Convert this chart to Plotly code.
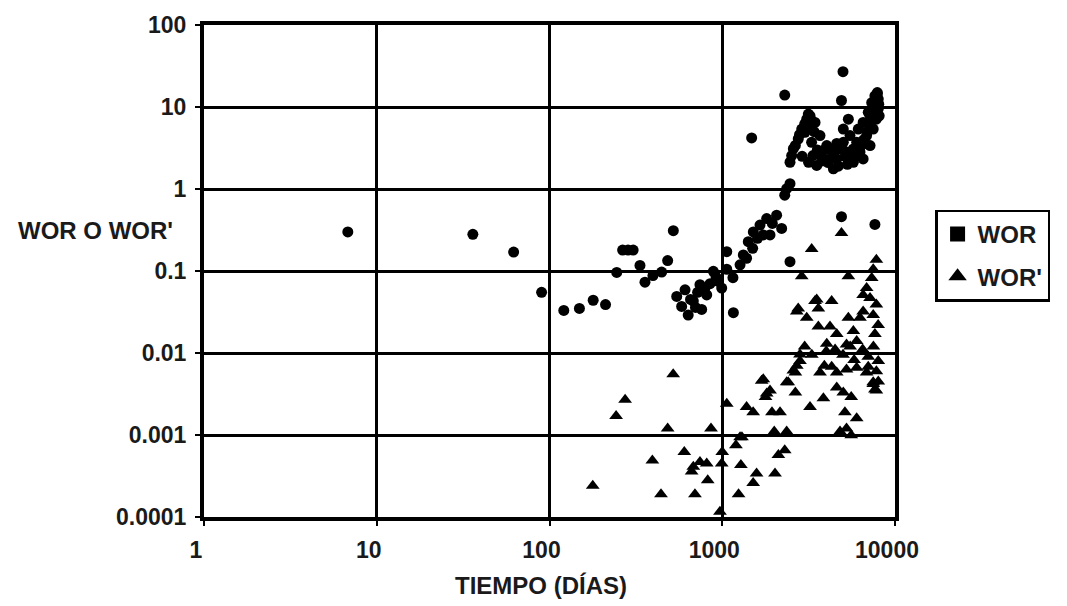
import plotly.graph_objects as go

# ---- data (time in days, ratio) ----
wor_t = [6.8, 36, 62, 90,
         121, 149, 179, 211,
         265, 285, 305, 245, 334, 357, 397, 446, 483, 521,
         545, 582, 609, 635, 680, 743, 760, 813, 888, 949, 993,
         700, 655, 720, 790, 850, 920,
         1062, 1062, 1153, 1160, 1268, 1324, 1383, 1415, 1500, 1513, 1654, 1728, 1808, 1890,
         2064, 2207, 1600, 1950,
         1480, 2300, 5000, 4900, 5370,
         2300, 2360, 2467,
         2523, 2467, 2580, 2753, 2884, 3083, 3222, 3444, 3680, 3290, 3350, 3522, 3160, 3010,
         3680, 4027, 4204, 4398, 4600, 4806, 5020, 5240, 5490, 5740, 6000, 6130, 6270, 6540,
         6850, 7000, 7330, 7650, 7800, 7480, 7990, 7170, 6540, 5740, 5020,
         3100, 3300, 3900, 4400, 5300, 6700, 7200, 7700, 8000, 7900, 3800, 2900, 4600, 7900, 7700,
         2650, 2800, 3000, 3150, 3400, 3550, 3750, 4100, 4300, 4700, 5150, 5600, 5900, 6300, 6600,
         6900, 7100, 7400, 7600, 7850, 8050, 8100,
         4900, 2467, 7650]
wor_v = [0.30, 0.28, 0.17, 0.055,
         0.033, 0.035, 0.044, 0.039,
         0.18, 0.18, 0.18, 0.096, 0.117, 0.073, 0.088, 0.097, 0.134, 0.31,
         0.049, 0.037, 0.059, 0.029, 0.043, 0.068, 0.034, 0.051, 0.099, 0.075, 0.062,
         0.036, 0.045, 0.055, 0.060, 0.070, 0.085,
         0.172, 0.105, 0.083, 0.031, 0.119, 0.157, 0.143, 0.228, 0.189, 0.30, 0.363, 0.275, 0.436, 0.275,
         0.48, 0.33, 0.25, 0.38,
         4.2, 14, 27, 12, 7.1,
         0.84, 1.01, 1.16,
         2.56, 2.12, 3.1, 4.07, 5.38, 7.1, 7.8, 6.49, 4.48, 3.71, 2.56, 1.94, 2.12, 4.91,
         2.83, 3.39, 2.33, 1.76, 2.33, 3.08, 3.71, 2.83, 4.48, 3.08, 3.71, 5.38, 2.83, 6.49,
         4.48, 8.6, 11.3, 13.7, 7.1, 5.38, 9.4, 3.39, 2.33, 2.12, 5.38,
         5.9, 6.8, 3.0, 2.6, 2.0, 3.6, 6.0, 10.5, 12.5, 14.5, 2.2, 2.5, 3.6, 15, 13,
         3.4, 4.6, 6.2, 8.2, 5.0, 3.0, 2.5, 2.1, 2.9, 1.9, 2.5, 2.4, 2.6, 3.3, 4.0,
         5.0, 6.8, 8.0, 9.8, 11.5, 10.8, 7.8,
         0.46, 0.13, 0.37]

worp_t = [274, 243, 483, 861, 603, 394, 680, 743, 813, 665, 824, 442, 695, 970, 1000, 993, 520, 178,
          2818, 2700, 2650, 3680, 4600, 5240, 6000, 6850, 7480, 7650, 4600, 5020, 5580, 3850, 3222,
          5130, 6000, 5240, 5580, 4806,
          1691, 1890, 1780, 2410, 2650, 1383, 1510, 1940, 2160, 2000, 2360, 1268, 1200, 1300, 2113,
          2300, 1282, 1580, 1510, 2020, 1243, 1062,
          2700, 3444, 4298, 3522, 3600, 2753, 3083, 3600, 4204, 4600, 4027, 5740, 6000, 5240, 5370,
          6270, 6540,
          7800, 7480, 7330, 6850, 6540, 7170, 7800, 7480, 7990, 7650,
          3293, 4900, 2884, 5370,
          2818, 2580, 2360, 1728, 1808,
          3000, 3300, 4000, 4500, 5000, 5500, 6500, 7000, 7500, 8000, 3900, 4300, 5800, 7000, 7800,
          8000, 7480, 7800]
worp_v = [0.0027, 0.0017, 0.0012, 0.0012, 0.00062, 0.00049, 0.00041, 0.00047, 0.00045, 0.00036,
          0.00028, 0.00019, 0.00019, 0.000116, 0.00062, 0.00045, 0.0055, 0.00024,
          0.0096, 0.0070, 0.0058, 0.0058, 0.0058, 0.0063, 0.0066, 0.0058, 0.0044, 0.0036, 0.0038,
          0.0033, 0.0029, 0.0028, 0.0022,
          0.0019, 0.0016, 0.0012, 0.00099, 0.0011,
          0.0046, 0.0035, 0.0029, 0.0044, 0.0033, 0.0022, 0.0019, 0.0019, 0.0019, 0.0011, 0.0011,
          0.00094, 0.00075, 0.00094, 0.00057,
          0.00065, 0.00043, 0.00034, 0.00026, 0.00034, 0.00019, 0.0024,
          0.032, 0.043, 0.043, 0.045, 0.035, 0.035, 0.027, 0.021, 0.021, 0.017, 0.013, 0.0185, 0.014,
          0.0127, 0.027, 0.027, 0.032,
          0.137, 0.105, 0.082, 0.062, 0.051, 0.047, 0.039, 0.029, 0.022, 0.017,
          0.186, 0.29, 0.086, 0.086,
          0.008, 0.0061, 0.0044, 0.0048, 0.0032,
          0.012, 0.0095, 0.0105, 0.011, 0.0095, 0.012, 0.011, 0.009, 0.012, 0.008, 0.007, 0.0068,
          0.0082, 0.0068, 0.006,
          0.0045, 0.0042, 0.0035]

x_ticks = [1, 10, 100, 1000, 10000]
x_tick_labels = ["1", "10", "100", "1000", "10000"]
y_ticks = [0.0001, 0.001, 0.01, 0.1, 1, 10, 100]
y_tick_labels = ["0.0001", "0.001", "0.01", "0.1", "1", "10", "100"]

FONT = "Liberation Sans, Arial, sans-serif"
INK = "#1a1a1a"

fig = go.Figure()
fig.add_trace(go.Scatter(x=wor_t, y=wor_v, mode="markers", showlegend=False,
                         marker=dict(symbol="circle", size=11, color="black")))
fig.add_trace(go.Scatter(x=worp_t, y=worp_v, mode="markers", showlegend=False,
                         marker=dict(symbol="triangle-up", size=12, color="black")))
# legend entries
fig.add_trace(go.Scatter(x=[None], y=[None], mode="markers", name="WOR", legendgroup="a",
                         marker=dict(symbol="square", size=15, color="black")))
fig.add_trace(go.Scatter(x=[None], y=[None], mode="markers", name="WOR'", legendgroup="b",
                         marker=dict(symbol="triangle-up", size=16, color="black")))

fig.update_layout(
    width=1067, height=606,
    margin=dict(l=204, r=172, t=22, b=89),
    paper_bgcolor="white", plot_bgcolor="white",
    font=dict(family=FONT, size=23, color=INK),
    showlegend=True,
    legend=dict(x=1.058, xanchor="left", y=0.625, yanchor="top",
                bordercolor="black", borderwidth=2.5, bgcolor="white",
                font=dict(size=24, family=FONT, color=INK, weight="bold"),
                tracegroupgap=8, itemwidth=30),
    xaxis=dict(type="log", range=[0, 4], tickvals=x_ticks, ticktext=x_tick_labels,
               showgrid=True, gridcolor="black", gridwidth=2.5,
               showline=True, linecolor="black", linewidth=4, mirror=True,
               ticks="outside", ticklen=5, tickwidth=2, tickcolor="black",
               ticklabelstandoff=4, ticklabelshift=-8,
               tickfont=dict(size=23, family=FONT, color=INK, weight="bold")),
    yaxis=dict(type="log", range=[-4, 2], tickvals=y_ticks, ticktext=y_tick_labels,
               showgrid=True, gridcolor="black", gridwidth=2.5,
               showline=True, linecolor="black", linewidth=4, mirror=True,
               ticks="outside", ticklen=5, tickwidth=2, tickcolor="black",
               ticklabelstandoff=4,
               tickfont=dict(size=23, family=FONT, color=INK, weight="bold")),
    annotations=[
        dict(text="WOR O WOR'", xref="paper", yref="paper", x=-0.042, y=0.582,
             xanchor="right", yanchor="middle", showarrow=False,
             font=dict(size=24, family=FONT, color=INK, weight="bold")),
        dict(text="TIEMPO (DÍAS)", xref="paper", yref="paper", x=0.4877, y=-0.139,
             xanchor="center", yanchor="middle", showarrow=False,
             font=dict(size=24, family=FONT, color=INK, weight="bold")),
    ],
)

fig.write_html("out.html")
